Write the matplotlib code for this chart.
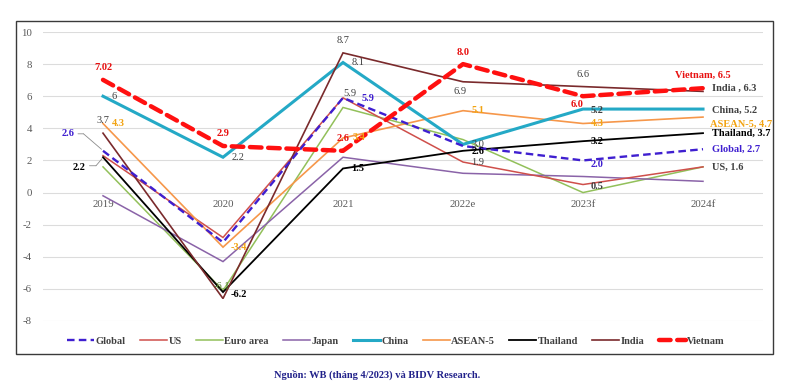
import matplotlib
matplotlib.use("Agg")
import matplotlib.pyplot as plt
from matplotlib.patches import Rectangle
from matplotlib.lines import Line2D

plt.rcParams['font.family'] = ['Liberation Serif', 'DejaVu Serif']

# ---------------- data ----------------
categories = ["2019", "2020", "2021", "2022e", "2023f", "2024f"]
series_names = ["Global", "US", "Euro area", "Japan", "China", "ASEAN-5", "Thailand", "India", "Vietnam"]
global_vals = [2.6, -3.1, 5.9, 2.9, 2.0, 2.7]
us_vals = [2.3, -2.8, 5.9, 1.9, 0.5, 1.6]
euro_vals = [1.6, -6.1, 5.3, 3.3, 0.0, 1.6]
japan_vals = [-0.2, -4.3, 2.2, 1.2, 1.0, 0.7]
china_vals = [6.0, 2.2, 8.1, 3.0, 5.2, 5.2]
asean_vals = [4.3, -3.4, 3.4, 5.1, 4.3, 4.7]
thailand_vals = [2.2, -6.2, 1.5, 2.6, 3.2, 3.7]
india_vals = [3.7, -6.6, 8.7, 6.9, 6.6, 6.3]
vietnam_vals = [7.02, 2.9, 2.6, 8.0, 6.0, 6.5]
yticks = [-8, -6, -4, -2, 0, 2, 4, 6, 8, 10]
source_text = "Nguồn: WB (tháng 4/2023) và BIDV Research."

values = {
    "Global": global_vals, "US": us_vals, "Euro area": euro_vals, "Japan": japan_vals,
    "China": china_vals, "ASEAN-5": asean_vals, "Thailand": thailand_vals,
    "India": india_vals, "Vietnam": vietnam_vals,
}

# ---------------- styles ----------------
styles = {
    "Global":   dict(color="#3F1FD0", lw=1.7, dashes=(3.2, 1.8), z=8),
    "US":       dict(color="#CF4F4B", lw=1.1, dashes=None, z=4),
    "Euro area": dict(color="#92C05A", lw=1.1, dashes=None, z=3),
    "Japan":    dict(color="#8A63A8", lw=1.1, dashes=None, z=3),
    "China":    dict(color="#24A9C6", lw=2.2, dashes=None, z=5),
    "ASEAN-5":  dict(color="#F6974A", lw=1.2, dashes=None, z=4),
    "Thailand": dict(color="#000000", lw=1.3, dashes=None, z=6),
    "India":    dict(color="#7A2A2C", lw=1.2, dashes=None, z=6),
    "Vietnam":  dict(color="#FF1010", lw=3.2, dashes=(2.6, 1.5), z=9),
}
label_colors = {
    "Global": "#3F1FD0", "US": "#404040", "Euro area": "#4E7A2A", "Japan": "#404040",
    "China": "#404040", "ASEAN-5": "#F2A311", "Thailand": "#000000",
    "India": "#404040", "Vietnam": "#E81010",
}
label_bold = {
    "Global": True, "US": False, "Euro area": False, "Japan": False, "China": False,
    "ASEAN-5": True, "Thailand": True, "India": False, "Vietnam": True,
}

W, H = 795, 387
fig = plt.figure(figsize=(W / 100, H / 100), dpi=100)
fig.patch.set_facecolor("white")

# outer frame
fig.add_artist(Rectangle((16 / W, 1 - 354 / H), (773 - 16) / W, (354 - 21) / H,
                         transform=fig.transFigure, fill=False, edgecolor="#3A3A3A", lw=1.0))

ax = fig.add_axes([43 / W, 1 - 321 / H, (763 - 43) / W, (321 - 32) / H])
x = [i + 0.5 for i in range(len(categories))]
ax.set_xlim(0, len(categories))
ax.set_ylim(-8, 10)
for s in ["top", "right", "left"]:
    ax.spines[s].set_visible(False)
ax.spines["bottom"].set_position(("data", 0))
ax.spines["bottom"].set_visible(False)
ax.set_yticks(yticks)
ax.set_yticklabels([str(t) for t in yticks])
ax.set_xticks(x)
ax.set_xticklabels(categories)
ax.tick_params(axis="both", length=0, labelsize=7.8, labelcolor="#595959")
ax.tick_params(axis="y", pad=8)
ax.tick_params(axis="x", pad=5)
ax.grid(axis="y", color="#DCDCDC", lw=0.8)
ax.set_axisbelow(True)

for name in series_names:
    st = styles[name]
    kw = dict(color=st["color"], lw=st["lw"], zorder=st["z"], solid_joinstyle="miter")
    if st["dashes"]:
        kw["dashes"] = st["dashes"]
        kw["dash_capstyle"] = "round" if name == "Vietnam" else "butt"
    ax.plot(x, values[name], **kw)

PX = 0.72  # px -> points


def lab(name, i, dx, dy, text=None, ha="center", color=None, bold=None, va="center"):
    v = values[name][i]
    if text is None:
        text = f"{v:.1f}"
    c = color or label_colors[name]
    b = label_bold[name] if bold is None else bold
    ax.annotate(text, (x[i], v), xytext=(dx * PX, dy * PX), textcoords="offset points",
                ha=ha, va=va, fontsize=7.5, color=c,
                fontweight="bold" if b else "normal", zorder=12, annotation_clip=False)


def seg(name, i, p0, p1):
    """leader-line segment between two pixel offsets from a data point"""
    v = values[name][i]
    ax.annotate("", xy=(x[i], v), xycoords="data",
                xytext=(p0[0] * PX, p0[1] * PX), textcoords="offset points",
                arrowprops=dict(arrowstyle="-", color="#8C8C8C", lw=0.6, shrinkA=0, shrinkB=0,
                                relpos=(0.5, 0.5)), zorder=11)


def leader(name, i, pts):
    # draw polyline between offsets (in px) relative to data point
    import matplotlib.transforms as mtrans
    v = values[name][i]
    for a, b in zip(pts[:-1], pts[1:]):
        tr_a = mtrans.offset_copy(ax.transData, fig=fig, x=a[0], y=a[1], units="dots")
        tr_b = mtrans.offset_copy(ax.transData, fig=fig, x=b[0], y=b[1], units="dots")
        ax.annotate("", xy=(x[i], v), xycoords=tr_b, xytext=(x[i], v), textcoords=tr_a,
                    arrowprops=dict(arrowstyle="-", color="#8C8C8C", lw=0.6, shrinkA=0, shrinkB=0),
                    zorder=11)


# 2019
lab("Vietnam", 0, 0, 12, text="7.02")
lab("China", 0, 11, 0, text="6")
lab("India", 0, 0, 13)
lab("ASEAN-5", 0, 15, 0)
lab("Global", 0, -34.5, 17)
leader("Global", 0, [(-25, 17), (-19.5, 17), (-1.5, 1.5)])
lab("Thailand", 0, -23.5, -10.5)
leader("Thailand", 0, [(-13.5, -8.5), (-7, -8.5), (-1, -1.5)])
# 2020
lab("Vietnam", 1, 0, 12)
lab("China", 1, 15, 0)
lab("ASEAN-5", 1, 16, 0)
lab("Euro area", 1, -1, 4)
lab("Thailand", 1, 16, -2)
# 2021
lab("India", 2, 0, 12)
lab("China", 2, 15, 0)
lab("US", 2, 7, 4)
lab("Global", 2, 25, -1)
lab("Vietnam", 2, 0, 12.5)
lab("ASEAN-5", 2, 16, 0)
lab("Thailand", 2, 15, 0)
# 2022e
lab("Vietnam", 3, 0, 12)
lab("India", 3, -3, -10)
lab("ASEAN-5", 3, 15, 0)
lab("China", 3, 15, 0)
lab("Thailand", 3, 15, -1)
lab("US", 3, 15, 0)
# 2023f
lab("India", 4, 0, 12)
lab("Vietnam", 4, -6, -8)
lab("China", 4, 14, -1.5, bold=True)
lab("ASEAN-5", 4, 14, 0)
lab("Thailand", 4, 14, 0)
lab("Global", 4, 14, -4)
lab("US", 4, 14, -1.5, bold=True)
# 2024f end labels
lab("Vietnam", 5, 0, 13, text="Vietnam, 6.5")
end_labels = [("India", "India , 6.3", 9, 3), ("China", "China, 5.2", 9, -1),
              ("ASEAN-5", "ASEAN-5, 4.7", 6.5, -7), ("Thailand", "Thailand, 3.7", 9, 0),
              ("Global", "Global, 2.7", 9, 0), ("US", "US, 1.6", 9, 0)]
for name, txt, dx, dy in end_labels:
    lab(name, 5, dx, dy, text=txt, ha="left", bold=True,
        color="#404040" if name in ("India", "China", "US") else None)

# legend
leg_handles = []
for name in series_names:
    st = styles[name]
    kw = dict(color=st["color"], lw=st["lw"])
    if st["dashes"]:
        kw["dashes"] = st["dashes"]
        if name == "Vietnam":
            kw["dash_capstyle"] = "round"
    leg_handles.append(Line2D([0], [0], **kw))
leg = fig.legend(leg_handles, series_names, loc="center", bbox_to_anchor=(396 / W, 1 - 341 / H),
                 ncol=9, frameon=False, handlelength=2.6, handletextpad=0.15, columnspacing=1.35,
                 prop=dict(family="Liberation Serif", weight="bold", size=7.5))
for t in leg.get_texts():
    t.set_color("#404040")

fig.text(377 / W, 1 - 374.5 / H, source_text, ha="center", va="center", fontsize=7.5,
         fontweight="bold", color="#21218A")

fig.savefig("out.png", dpi=100)
